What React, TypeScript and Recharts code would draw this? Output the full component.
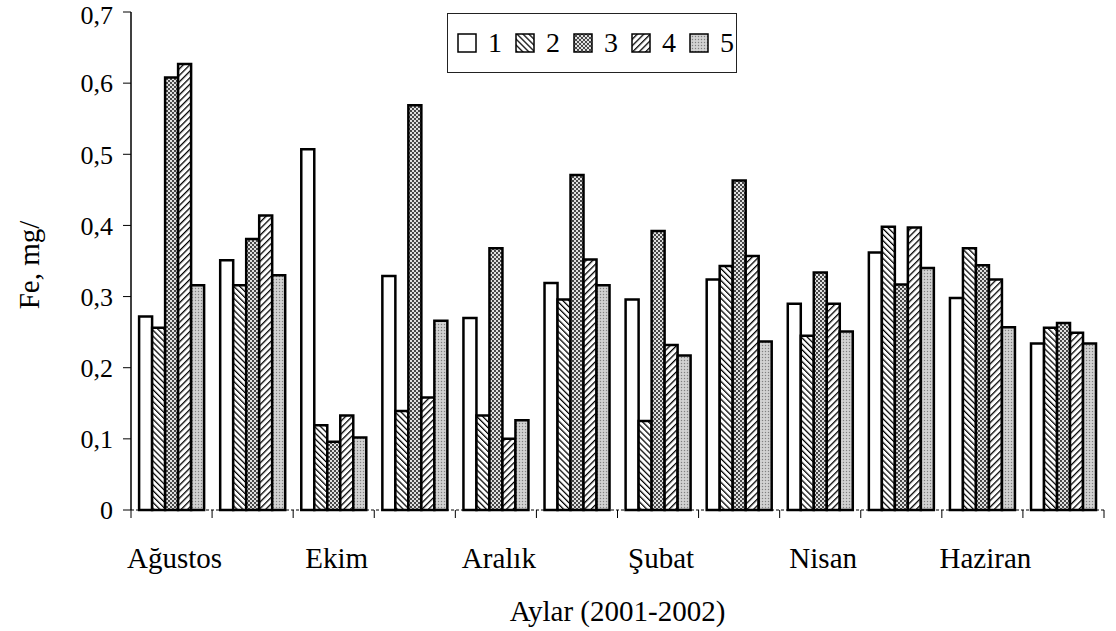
import { BarChart, Bar, XAxis, YAxis, Legend } from "recharts";

// Aylar: Ağustos 2001 - Temmuz 2002
const months = [
  "Ağustos", "Eylül", "Ekim", "Kasım", "Aralık", "Ocak",
  "Şubat", "Mart", "Nisan", "Mayıs", "Haziran", "Temmuz",
];

// Fe, mg/ values for stations 1..5
const s1 = [0.272, 0.351, 0.507, 0.329, 0.27, 0.319, 0.296, 0.324, 0.29, 0.362, 0.298, 0.234];
const s2 = [0.256, 0.316, 0.119, 0.139, 0.133, 0.296, 0.125, 0.343, 0.245, 0.398, 0.368, 0.256];
const s3 = [0.608, 0.381, 0.096, 0.569, 0.368, 0.471, 0.392, 0.463, 0.334, 0.317, 0.344, 0.263];
const s4 = [0.627, 0.414, 0.133, 0.158, 0.1, 0.352, 0.232, 0.357, 0.29, 0.397, 0.324, 0.249];
const s5 = [0.316, 0.33, 0.102, 0.266, 0.126, 0.316, 0.217, 0.237, 0.251, 0.34, 0.257, 0.234];

const seriesNames = ["1", "2", "3", "4", "5"];
const yTicks = [0, 0.1, 0.2, 0.3, 0.4, 0.5, 0.6, 0.7];

const data = months.map((m, i) => ({
  month: m,
  s1: s1[i],
  s2: s2[i],
  s3: s3[i],
  s4: s4[i],
  s5: s5[i],
}));

const FONT = "'Liberation Serif', 'Times New Roman', serif";
const WIDTH = 1116;
const HEIGHT = 631;
const MARGIN = { top: 12, right: 12, left: 0, bottom: 0 };
const Y_WIDTH = 131;
const PLOT_W = WIDTH - Y_WIDTH - MARGIN.right;
const BAND = PLOT_W / months.length;

const fills = ["#ffffff", "url(#p2)", "url(#p3)", "url(#p4)", "url(#p5)"];

function formatY(v: number) {
  return v === 0 ? "0" : v.toFixed(1).replace(".", ",");
}

// tick marks sit between months, only every other month is labelled
function MonthTick(props: any) {
  const { x, y, payload } = props;
  const index = props.index ?? payload.index;
  const half = BAND / 2;
  return (
    <g>
      <line x1={x - half} y1={y} x2={x - half} y2={y + 8} stroke="#000" strokeWidth={1} />
      {index === months.length - 1 && (
        <line x1={x + half} y1={y} x2={x + half} y2={y + 8} stroke="#000" strokeWidth={1} />
      )}
      {index % 2 === 0 && (
        <text x={x + 3} y={y + 58} textAnchor="middle" fill="#000" fontSize={29} fontFamily={FONT}>
          {payload.value}
        </text>
      )}
    </g>
  );
}

function YTitle(props: any) {
  const { viewBox } = props;
  const cx = 29;
  const cy = viewBox.y + viewBox.height / 2 + 4;
  return (
    <text
      x={cx}
      y={cy}
      transform={`rotate(-90, ${cx}, ${cy})`}
      textAnchor="middle"
      dominantBaseline="central"
      fill="#000"
      fontSize={29}
      fontFamily={FONT}
    >
      Fe, mg/
    </text>
  );
}

function PatternLegend({ payload }: any) {
  return (
    <div
      style={{
        border: "1px solid #222",
        width: 290,
        height: 60,
        boxSizing: "border-box",
        display: "flex",
        alignItems: "center",
        paddingLeft: 9,
        background: "#fff",
      }}
    >
      {(payload || []).map((entry: any, i: number) => (
        <span key={i} style={{ display: "inline-flex", alignItems: "center", marginRight: 13 }}>
          <svg width={20} height={20}>
            <rect x={1} y={1} width={18} height={18} fill={fills[i]} stroke="#000" strokeWidth={1.5} />
          </svg>
          <span style={{ marginLeft: 11, fontSize: 28, fontFamily: FONT, color: "#000", lineHeight: 1 }}>
            {entry.value}
          </span>
        </span>
      ))}
    </div>
  );
}

export default function App() {
  return (
    <div style={{ position: "absolute", left: 0, top: 0, width: WIDTH, height: HEIGHT, background: "#fff" }}>
      <BarChart
        width={WIDTH}
        height={HEIGHT}
        data={data}
        margin={MARGIN}
        barCategoryGap="10%"
        barGap={0}
      >
        <defs>
          <pattern id="p2" width="4.2" height="4.2" patternUnits="userSpaceOnUse" patternTransform="rotate(-45)">
            <rect width="4.2" height="4.2" fill="#fff" />
            <line x1="0" y1="0" x2="0" y2="4.2" stroke="#000" strokeWidth="2.5" />
          </pattern>
          <pattern id="p3" width="4" height="4" patternUnits="userSpaceOnUse">
            <rect width="4" height="4" fill="#e0e0e0" />
            <circle cx="1" cy="1" r="0.9" fill="#000" />
            <circle cx="3" cy="3" r="0.9" fill="#000" />
          </pattern>
          <pattern id="p4" width="4.6" height="4.6" patternUnits="userSpaceOnUse" patternTransform="rotate(45)">
            <rect width="4.6" height="4.6" fill="#fff" />
            <line x1="0" y1="0" x2="0" y2="4.6" stroke="#000" strokeWidth="2.6" />
          </pattern>
          <pattern id="p5" width="3" height="3" patternUnits="userSpaceOnUse">
            <rect width="3" height="3" fill="#c8c8c8" />
            <rect x="0" y="0" width="1" height="1" fill="#808080" />
            <rect x="1.5" y="1.5" width="1" height="1" fill="#f0f0f0" />
          </pattern>
        </defs>
        <XAxis
          dataKey="month"
          interval={0}
          height={121}
          tickSize={0}
          tickMargin={0}
          tickLine={false}
          axisLine={{ stroke: "#000", strokeWidth: 1, strokeDasharray: "3 2" }}
          tick={<MonthTick />}
          label={{
            value: "Aylar (2001-2002)",
            position: "insideBottom",
            offset: 10,
            fill: "#000",
            fontSize: 29,
            fontFamily: FONT,
          }}
        />
        <YAxis
          width={Y_WIDTH}
          domain={[0, 0.7]}
          ticks={yTicks}
          tickFormatter={formatY}
          tickSize={8}
          tickMargin={10}
          tick={{ fill: "#000", fontSize: 26, fontFamily: FONT }}
          tickLine={{ stroke: "#000" }}
          axisLine={{ stroke: "#000", strokeWidth: 1.5 }}
          label={<YTitle />}
        />
        <Legend
          verticalAlign="middle"
          align="center"
          wrapperStyle={{ position: "absolute", left: 447, top: 13, width: 290, height: 60 }}
          content={<PatternLegend />}
        />
        {seriesNames.map((name, i) => (
          <Bar
            key={name}
            dataKey={`s${i + 1}`}
            name={name}
            fill={fills[i]}
            stroke="#000"
            strokeWidth={2.5}
            isAnimationActive={false}
          />
        ))}
      </BarChart>
    </div>
  );
}
